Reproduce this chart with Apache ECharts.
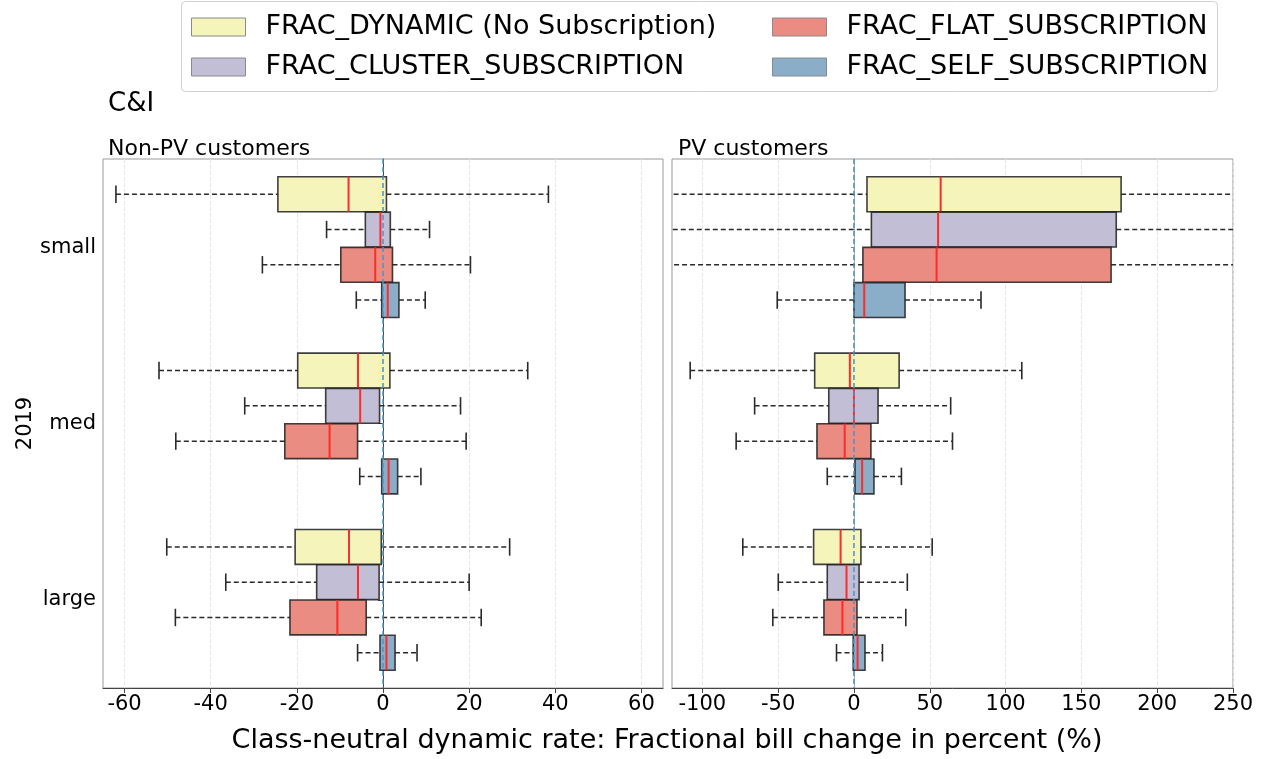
<!DOCTYPE html>
<html>
<head>
<meta charset="utf-8">
<script src="https://cdn.jsdelivr.net/npm/echarts@6/dist/echarts.min.js"></script>
<style>
  html, body { margin: 0; padding: 0; background: #fff; }
  #chart { width: 1262px; height: 759px; }
</style>
</head>
<body>
<div id="chart"></div>
<script>
// Customer size classes (rows of each panel, top to bottom)
const sizes = ['small', 'med', 'large'];

// Rate scenarios
const scenarioNames = [
  'FRAC_DYNAMIC (No Subscription)',
  'FRAC_CLUSTER_SUBSCRIPTION',
  'FRAC_FLAT_SUBSCRIPTION',
  'FRAC_SELF_SUBSCRIPTION'
];

// Box statistics per size class: [whisker low, q1, median, q3, whisker high]
const nonPvDynamic = [[-62.0, -24.4, -8.0, 0.8, 38.4], [-52.0, -19.8, -5.8, 1.6, 33.6], [-50.2, -20.4, -7.9, -0.4, 29.4]];
const nonPvCluster = [[-13.1, -4.1, -0.6, 1.7, 10.8], [-32.1, -13.3, -5.3, -0.8, 18.0], [-36.5, -15.4, -5.8, -0.9, 20.0]];
const nonPvFlat    = [[-28.0, -9.8, -1.8, 2.2, 20.3], [-48.1, -22.8, -12.4, -5.9, 19.3], [-48.2, -21.6, -10.6, -3.9, 22.8]];
const nonPvSelf    = [[-6.2, -0.3, 1.1, 3.7, 9.8], [-5.4, -0.3, 1.3, 3.4, 8.8], [-5.9, -0.7, 0.8, 2.8, 7.9]];

const pvDynamic = [[-235, 8.6, 57.2, 176.2, 430], [-108.0, -25.9, -2.7, 29.8, 110.7], [-73.3, -26.6, -8.8, 4.6, 51.6]];
const pvCluster = [[-225, 11.5, 55.5, 173.0, 420], [-65.5, -16.6, 0.0, 15.9, 63.8], [-49.9, -17.6, -4.9, 3.4, 35.2]];
const pvFlat    = [[-240, 5.9, 54.5, 169.6, 415], [-77.7, -24.4, -6.1, 11.2, 65.0], [-53.5, -19.8, -7.6, 2.0, 34.2]];
const pvSelf    = [[-50.6, 0.0, 6.8, 33.7, 83.8], [-17.6, 0.7, 5.4, 13.2, 31.3], [-11.5, -0.5, 2.4, 7.3, 18.8]];

// Tick labels on the two x axes
const nonPvTicks = [-60, -40, -20, 0, 20, 40, 60];
const pvTicks = [-100, -50, 0, 50, 100, 150, 200, 250];

const fillColors = ['#f5f5bb', '#c2bed6', '#ea8c82', '#8aaec8'];
const FONT = 'DejaVu Sans';

function boxRenderer(slot, color) {
  return function (params, api) {
    const cat = api.value(0);
    const band = api.size([0, 1])[1];
    const yc = api.coord([0, cat])[1] + (slot - 1.5) * 0.2 * band;
    const h = 0.198 * band;
    const xs = [1, 2, 3, 4, 5].map(function (i) { return api.coord([api.value(i), cat])[0]; });
    const dash = { stroke: '#2a2a2a', lineWidth: 1.5, lineDash: [5, 3] };
    const cap = { stroke: '#2a2a2a', lineWidth: 1.6 };
    return {
      type: 'group',
      children: [
        { type: 'line', shape: { x1: xs[0], y1: yc, x2: xs[1], y2: yc }, style: dash },
        { type: 'line', shape: { x1: xs[3], y1: yc, x2: xs[4], y2: yc }, style: dash },
        { type: 'line', shape: { x1: xs[0], y1: yc - h / 4, x2: xs[0], y2: yc + h / 4 }, style: cap },
        { type: 'line', shape: { x1: xs[4], y1: yc - h / 4, x2: xs[4], y2: yc + h / 4 }, style: cap },
        { type: 'rect', shape: { x: xs[1], y: yc - h / 2, width: xs[3] - xs[1], height: h },
          style: { fill: color, stroke: 'rgba(30,30,30,0.85)', lineWidth: 1.6 } },
        { type: 'line', shape: { x1: xs[2], y1: yc - h / 2, x2: xs[2], y2: yc + h / 2 },
          style: { stroke: '#ff2a2a', lineWidth: 2 } }
      ]
    };
  };
}

function toRows(stats) {
  return stats.map(function (s, i) { return [i].concat(s); });
}

function boxSeries(name, slot, stats, gridIdx) {
  return {
    type: 'custom',
    name: name,
    xAxisIndex: gridIdx,
    yAxisIndex: gridIdx,
    clip: true,
    itemStyle: { color: fillColors[slot] },
    encode: { x: [1, 2, 3, 4, 5], y: 0 },
    data: toRows(stats),
    renderItem: boxRenderer(slot, fillColors[slot]),
    z: 2
  };
}

// Dashed reference line at zero change
function zeroSeries(gridIdx) {
  return {
    type: 'custom',
    xAxisIndex: gridIdx,
    yAxisIndex: gridIdx,
    data: [[0, 0]],
    encode: { x: 0, y: 1 },
    z: 5,
    silent: true,
    renderItem: function (params, api) {
      const cs = params.coordSys;
      const x = api.coord([api.value(0), 0])[0];
      return {
        type: 'line',
        shape: { x1: x, y1: cs.y, x2: x, y2: cs.y + cs.height },
        style: { stroke: '#4a92c6', lineWidth: 1.5, lineDash: [5, 3] }
      };
    }
  };
}

const labelStyle = { fontFamily: FONT, fontSize: 21, color: '#000' };

function xAxis(gridIdx, min, max, ticks) {
  return {
    type: 'value',
    gridIndex: gridIdx,
    min: min,
    max: max,
    axisLine: { show: true, lineStyle: { color: '#444', width: 1 } },
    axisTick: { show: true, length: 5, customValues: ticks, lineStyle: { color: '#444' } },
    axisLabel: Object.assign({ customValues: ticks, margin: 6 }, labelStyle),
    splitLine: { show: true, lineStyle: { color: '#e6e6e6', type: 'dashed', width: 1 } }
  };
}

const legendText = { fontFamily: FONT, fontSize: 27, color: '#000', lineHeight: 30, padding: [0, 0, 0, 15] };

const chart = echarts.init(document.getElementById('chart'));

chart.setOption({
  animation: false,
  textStyle: { fontFamily: FONT },
  title: [
    { text: 'C&I', left: 103, top: 86, textStyle: { fontFamily: FONT, fontSize: 26, fontWeight: 'normal', color: '#000' } },
    { text: 'Non-PV customers', left: 103, top: 133, textStyle: { fontFamily: FONT, fontSize: 22, fontWeight: 'normal', color: '#000' } },
    { text: 'PV customers', left: 673, top: 133, textStyle: { fontFamily: FONT, fontSize: 22, fontWeight: 'normal', color: '#000' } }
  ],
  graphic: [
    { type: 'rect', shape: { x: 181.5, y: 1.5, width: 1036, height: 90, r: 4 },
      style: { fill: '#fff', stroke: '#d0d0d0', lineWidth: 1 }, z: 0 },
    { type: 'text', x: 667, y: 741,
      style: { text: 'Class-neutral dynamic rate: Fractional bill change in percent (%)',
               fontFamily: FONT, fontSize: 27, fill: '#000', textAlign: 'center', textVerticalAlign: 'middle' } }
  ],
  legend: [
    {
      data: [scenarioNames[0], scenarioNames[1]],
      orient: 'vertical', left: 191, top: 12, itemGap: 10, padding: 0,
      icon: 'rect', itemWidth: 54, itemHeight: 18,
      itemStyle: { borderColor: '#8a8a8a', borderWidth: 1 },
      textStyle: legendText,
      selectedMode: false
    },
    {
      data: [scenarioNames[2], scenarioNames[3]],
      orient: 'vertical', left: 772, top: 12, itemGap: 10, padding: 0,
      icon: 'rect', itemWidth: 54, itemHeight: 18,
      itemStyle: { borderColor: '#8a8a8a', borderWidth: 1 },
      textStyle: legendText,
      selectedMode: false
    }
  ],
  grid: [
    { left: 103, top: 159, width: 560, height: 529, show: true, borderColor: '#999', borderWidth: 1, backgroundColor: 'transparent' },
    { left: 672, top: 159, width: 561, height: 529, show: true, borderColor: '#999', borderWidth: 1, backgroundColor: 'transparent' }
  ],
  xAxis: [
    xAxis(0, -65, 65, nonPvTicks),
    xAxis(1, -120, 250, pvTicks)
  ],
  yAxis: [
    {
      type: 'category', gridIndex: 0, data: sizes, inverse: true,
      axisLine: { show: true, lineStyle: { color: '#444' } },
      axisTick: { show: true, alignWithLabel: true, length: 5, lineStyle: { color: '#444' } },
      axisLabel: Object.assign({ margin: 7 }, labelStyle),
      splitLine: { show: false },
      name: '2019', nameLocation: 'middle', nameRotate: 90, nameGap: 67,
      nameTextStyle: { fontFamily: FONT, fontSize: 21, color: '#000' }
    },
    {
      type: 'category', gridIndex: 1, data: sizes, inverse: true,
      axisLine: { show: true, lineStyle: { color: '#aaa' } },
      axisTick: { show: true, alignWithLabel: true, length: 3, lineStyle: { color: '#888' } },
      axisLabel: { show: false },
      splitLine: { show: false }
    }
  ],
  series: [
    boxSeries(scenarioNames[0], 0, nonPvDynamic, 0),
    boxSeries(scenarioNames[1], 1, nonPvCluster, 0),
    boxSeries(scenarioNames[2], 2, nonPvFlat, 0),
    boxSeries(scenarioNames[3], 3, nonPvSelf, 0),
    boxSeries(scenarioNames[0], 0, pvDynamic, 1),
    boxSeries(scenarioNames[1], 1, pvCluster, 1),
    boxSeries(scenarioNames[2], 2, pvFlat, 1),
    boxSeries(scenarioNames[3], 3, pvSelf, 1),
    zeroSeries(0),
    zeroSeries(1)
  ]
});
</script>
</body>
</html>
